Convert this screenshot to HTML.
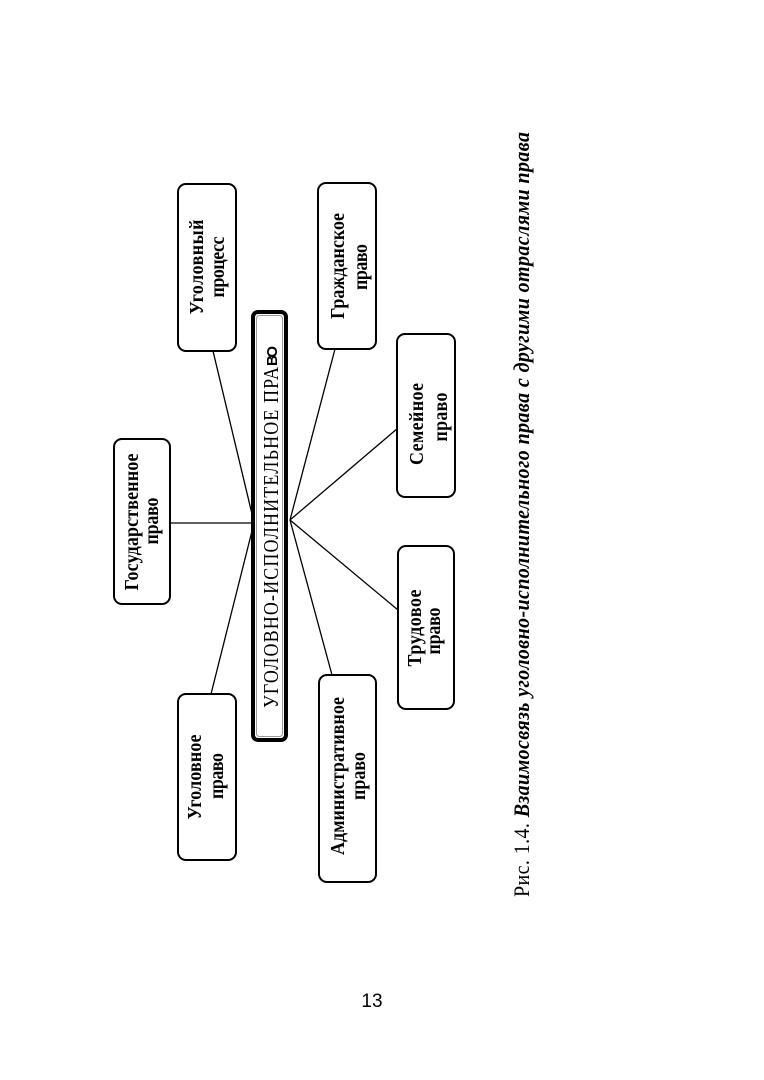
<!DOCTYPE html>
<html>
<head>
<meta charset="utf-8">
<style>
  html, body { margin: 0; padding: 0; background: #fff; }
  svg { display: block; }
  .bx { fill: #fff; stroke: #000; stroke-width: 2; }
  .ln { stroke: #000; stroke-width: 1.3; fill: none; }
  .t { font-family: "Liberation Serif", "DejaVu Serif", serif; font-weight: bold; font-size: 18px; fill: #000; }
</style>
</head>
<body>
<svg width="764" height="1080" viewBox="0 0 764 1080" xmlns="http://www.w3.org/2000/svg">
  <rect x="0" y="0" width="764" height="1080" fill="#fff"/>

  <!-- connectors -->
  <line class="ln" x1="213" y1="351" x2="252" y2="514"/>
  <line class="ln" x1="170" y1="523" x2="252" y2="523"/>
  <line class="ln" x1="211" y1="694" x2="252" y2="531"/>
  <line class="ln" x1="335" y1="349" x2="290" y2="520"/>
  <line class="ln" x1="398" y1="428" x2="290" y2="520"/>
  <line class="ln" x1="398" y1="610" x2="290" y2="520"/>
  <line class="ln" x1="332" y1="675" x2="290" y2="520"/>

  <!-- central box -->
  <rect x="253" y="312" width="33" height="428" rx="5" ry="5" fill="#fff" stroke="#000" stroke-width="4"/>
  <rect x="256.5" y="315.5" width="26" height="421" rx="3" ry="3" fill="none" stroke="#9a9a9a" stroke-width="1"/>
  <text transform="translate(278,708) rotate(-90) scale(1,1.15)" font-family="Liberation Serif, DejaVu Serif, serif" font-size="18" fill="#000" textLength="341" lengthAdjust="spacing">УГОЛОВНО-ИСПОЛНИТЕЛЬНОЕ ПРА</text>
  <text transform="translate(277,366) rotate(-90)" font-family="Liberation Sans, DejaVu Sans, sans-serif" font-weight="bold" font-size="15" fill="#000" textLength="20" lengthAdjust="spacing">ВО</text>

  <!-- boxes -->
  <rect class="bx" x="178" y="184" width="58" height="167" rx="8" ry="8"/>
  <rect class="bx" x="318" y="183" width="58" height="166" rx="8" ry="8"/>
  <rect class="bx" x="397" y="334" width="58" height="163" rx="8" ry="8"/>
  <rect class="bx" x="398" y="546" width="56" height="163" rx="8" ry="8"/>
  <rect class="bx" x="319" y="675" width="57" height="207" rx="8" ry="8"/>
  <rect class="bx" x="178" y="694" width="58" height="166" rx="8" ry="8"/>
  <rect class="bx" x="114" y="439" width="56" height="165" rx="8" ry="8"/>

  <!-- box texts -->
  <text class="t" text-anchor="middle" transform="translate(203,267) rotate(-90) scale(1,1.12)" textLength="95" lengthAdjust="spacing">Уголовный</text>
  <text class="t" text-anchor="middle" transform="translate(224,267) rotate(-90) scale(1,1.12)" textLength="61" lengthAdjust="spacing">процесс</text>

  <text class="t" text-anchor="middle" transform="translate(344,266) rotate(-90) scale(1,1.12)" textLength="106" lengthAdjust="spacing">Гражданское</text>
  <text class="t" text-anchor="middle" transform="translate(367,267) rotate(-90) scale(1,1.12)" textLength="46" lengthAdjust="spacing">право</text>

  <text class="t" text-anchor="middle" transform="translate(423,424) rotate(-90) scale(1,1.12)" textLength="82" lengthAdjust="spacing">Семейное</text>
  <text class="t" text-anchor="middle" transform="translate(447,417) rotate(-90) scale(1,1.12)" textLength="49" lengthAdjust="spacing">право</text>

  <text class="t" text-anchor="middle" transform="translate(421,628) rotate(-90) scale(1,1.12)" textLength="77" lengthAdjust="spacing">Трудовое</text>
  <text class="t" text-anchor="middle" transform="translate(440,631) rotate(-90) scale(1,1.12)" textLength="47" lengthAdjust="spacing">право</text>

  <text class="t" text-anchor="middle" transform="translate(344,776) rotate(-90) scale(1,1.12)" textLength="158" lengthAdjust="spacing">Административное</text>
  <text class="t" text-anchor="middle" transform="translate(365,776) rotate(-90) scale(1,1.12)" textLength="48" lengthAdjust="spacing">право</text>

  <text class="t" text-anchor="middle" transform="translate(201,777) rotate(-90) scale(1,1.12)" textLength="85" lengthAdjust="spacing">Уголовное</text>
  <text class="t" text-anchor="middle" transform="translate(223,776) rotate(-90) scale(1,1.12)" textLength="46" lengthAdjust="spacing">право</text>

  <text class="t" text-anchor="middle" transform="translate(138,522) rotate(-90) scale(1,1.12)" textLength="137" lengthAdjust="spacing">Государственное</text>
  <text class="t" text-anchor="middle" transform="translate(158,521) rotate(-90) scale(1,1.12)" textLength="47" lengthAdjust="spacing">право</text>

  <!-- caption -->
  <text transform="translate(529,897) rotate(-90) scale(1,1.1)" font-family="Liberation Serif, DejaVu Serif, serif" font-size="20" fill="#000" textLength="765" lengthAdjust="spacing"><tspan>Рис. 1.4. </tspan><tspan font-weight="bold" font-style="italic">Взаимосвязь уголовно-исполнительного права с другими отраслями права</tspan></text>

  <!-- page number -->
  <text x="372" y="1007" text-anchor="middle" font-family="Liberation Sans, DejaVu Sans, sans-serif" font-size="19" fill="#000">13</text>
</svg>
</body>
</html>
